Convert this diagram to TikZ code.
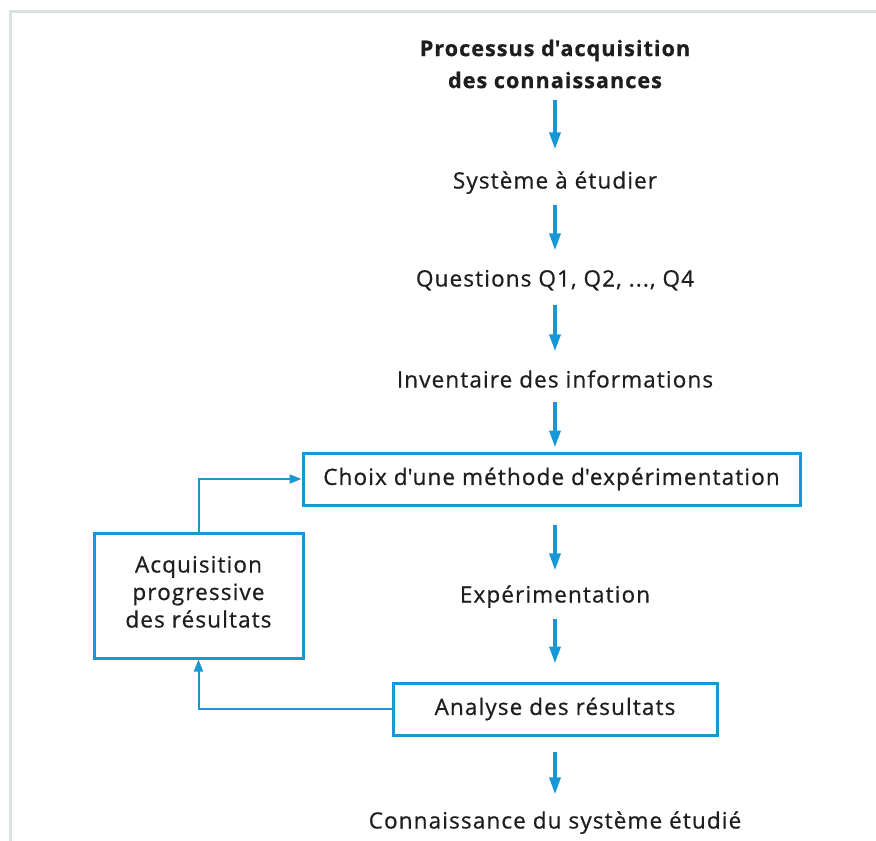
\documentclass[tikz,border=0pt]{standalone}
\usepackage{fontspec}
\setmainfont{Open Sans}[LetterSpace=5, FakeBold=0.7, BoldFeatures={FakeBold=0.8}]
\usetikzlibrary{arrows.meta}
\definecolor{tiblue}{RGB}{22,152,214}
\definecolor{framecol}{RGB}{215,228,225}
\definecolor{txt}{RGB}{30,30,30}
\newcommand{\ap}{\textquotesingle}
\begin{document}
\begin{tikzpicture}[x=1pt,y=-1pt,
  every node/.style={text=txt},
  lbl/.style={font=\fontsize{22.5}{27}\selectfont, inner sep=0pt, text height=15pt, text depth=4pt},
  ttl/.style={font=\bfseries\fontsize{21.5}{32}\selectfont, inner sep=0pt, align=center},
  tibox/.style={draw=tiblue, line width=3pt, inner sep=0pt, font=\fontsize{22.5}{27.5}\selectfont, align=center},
  flow/.style={draw=tiblue, line width=3.5pt, -{Triangle[width=11pt,length=17pt]}},
  back/.style={draw=tiblue, line width=2pt, -{Triangle[width=9pt,length=12pt]}}]
\useasboundingbox (0,0) rectangle (876,841);
\fill[white] (0,0) rectangle (876,841);
\draw[framecol, line width=3pt] (10,841) -- (10,11) -- (876,11);

\node[ttl] (title) at (555,64) {Processus d\ap acquisition\\des connaissances};
\node[lbl] (sys) at (555,183) {Système à étudier};
\node[lbl] (que) at (555,281) {Questions Q1, Q2, ..., Q4};
\node[lbl] (inv) at (555,382) {Inventaire des informations};
\node[tibox, minimum width=497pt, minimum height=52pt] (choix) at (551.5,479) {Choix d\ap une méthode d\ap expérimentation};
\node[lbl] (exp) at (555,597) {Expérimentation};
\node[tibox, minimum width=324pt, minimum height=52pt] (ana) at (555,709) {Analyse des résultats};
\node[lbl] (conn) at (555,823) {Connaissance du système étudié};
\node[tibox, minimum width=209pt, minimum height=125pt] (acq) at (198.5,595.5) {Acquisition\\progressive\\des résultats\\[-20pt]};

\draw[flow, shorten <=12pt, shorten >=24pt] (title.south) -- (sys.north);
\draw[flow, shorten <=12pt, shorten >=21pt] (sys.south) -- (que.north);
\draw[flow, shorten <=14pt, shorten >=21pt] (que.south) -- (inv.north);
\draw[flow, shorten <=10pt, shorten >=4pt] (inv.south) -- (choix.north -| inv.south);
\draw[flow, shorten <=18pt, shorten >=17pt] (choix.south -| exp.north) -- (exp.north);
\draw[flow, shorten <=12pt, shorten >=18pt] (exp.south) -- (ana.north);
\draw[flow, shorten <=15pt, shorten >=19pt] (ana.south) -- (conn.north);

\draw[back] (acq.north) |- (choix.west);
\draw[back] (ana.west) -| (acq.south);
\end{tikzpicture}
\end{document}
